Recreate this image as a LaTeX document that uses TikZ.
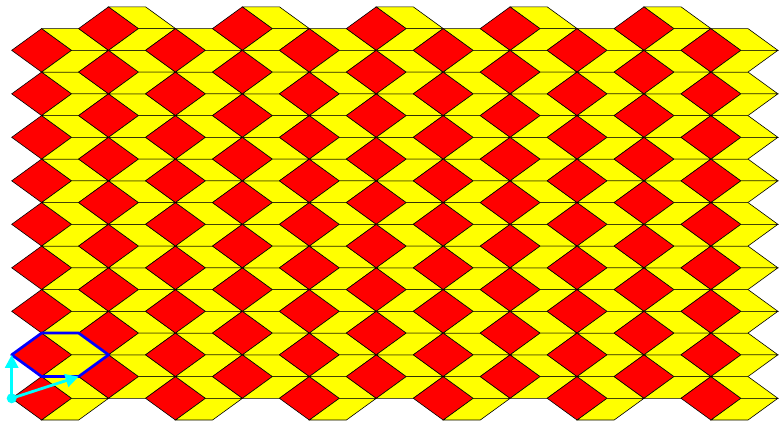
\documentclass[tikz,border=0pt]{standalone}
\usetikzlibrary{arrows.meta}
\definecolor{tred}{RGB}{255,0,0}
\definecolor{tyellow}{RGB}{255,255,0}
\definecolor{tcyan}{RGB}{0,255,255}
\definecolor{tblue}{RGB}{0,0,255}
\tikzset{
  fatrhomb/.style={fill=tred,draw=black,line width=0.6pt,line join=miter},
  thinrhomb/.style={fill=tyellow,draw=black,line width=0.6pt,line join=miter},
  tileout/.style={draw=tblue,line width=2.7pt,line join=round},
  vecarrow/.style={draw=tcyan,line width=2.8pt,-{Triangle[length=13pt,width=13pt]}},
}
\begin{document}
\begin{tikzpicture}[x=1pt,y=1pt]
\useasboundingbox (0,0) rectangle (780,421);
\def\LL{37}
\def\Lc{29.934}
\def\hh{21.748}
\def\Lb{66.934}
\foreach \i in {0,...,10}{
  \foreach \k in {0,...,8}{
    \begin{scope}[shift={({11.7+\Lb*\i},{22.7+\hh*mod(\i,2)+2*\hh*\k})}]
      \path[fatrhomb] (0,0) -- (\Lc,\hh) -- ({2*\Lc},0) -- (\Lc,-\hh) -- cycle;
      \path[thinrhomb] (\Lc,\hh) -- ({\Lc+\LL},\hh) -- ({2*\Lc+\LL},0) -- ({2*\Lc},0) -- cycle;
      \path[thinrhomb] (\Lc,-\hh) -- ({\Lc+\LL},-\hh) -- ({2*\Lc+\LL},0) -- ({2*\Lc},0) -- cycle;
    \end{scope}
  }
}
% fundamental tile
\coordinate (O) at (11.7,22.7);
\coordinate (A) at (11.7,{22.7+2*\hh});
\coordinate (B) at ({11.7+\Lb},{22.7+\hh});
\begin{scope}[shift={(A)}]
  \path[tileout] (0,0) -- (\Lc,\hh) -- ({\Lc+\LL},\hh) -- ({2*\Lc+\LL},0) -- ({\Lc+\LL},-\hh) -- (\Lc,-\hh) -- cycle;
\end{scope}
\draw[vecarrow] (O) -- (A);
\draw[vecarrow] (O) -- (B);
\fill[tcyan] (O) circle (5pt);
\end{tikzpicture}
\end{document}
